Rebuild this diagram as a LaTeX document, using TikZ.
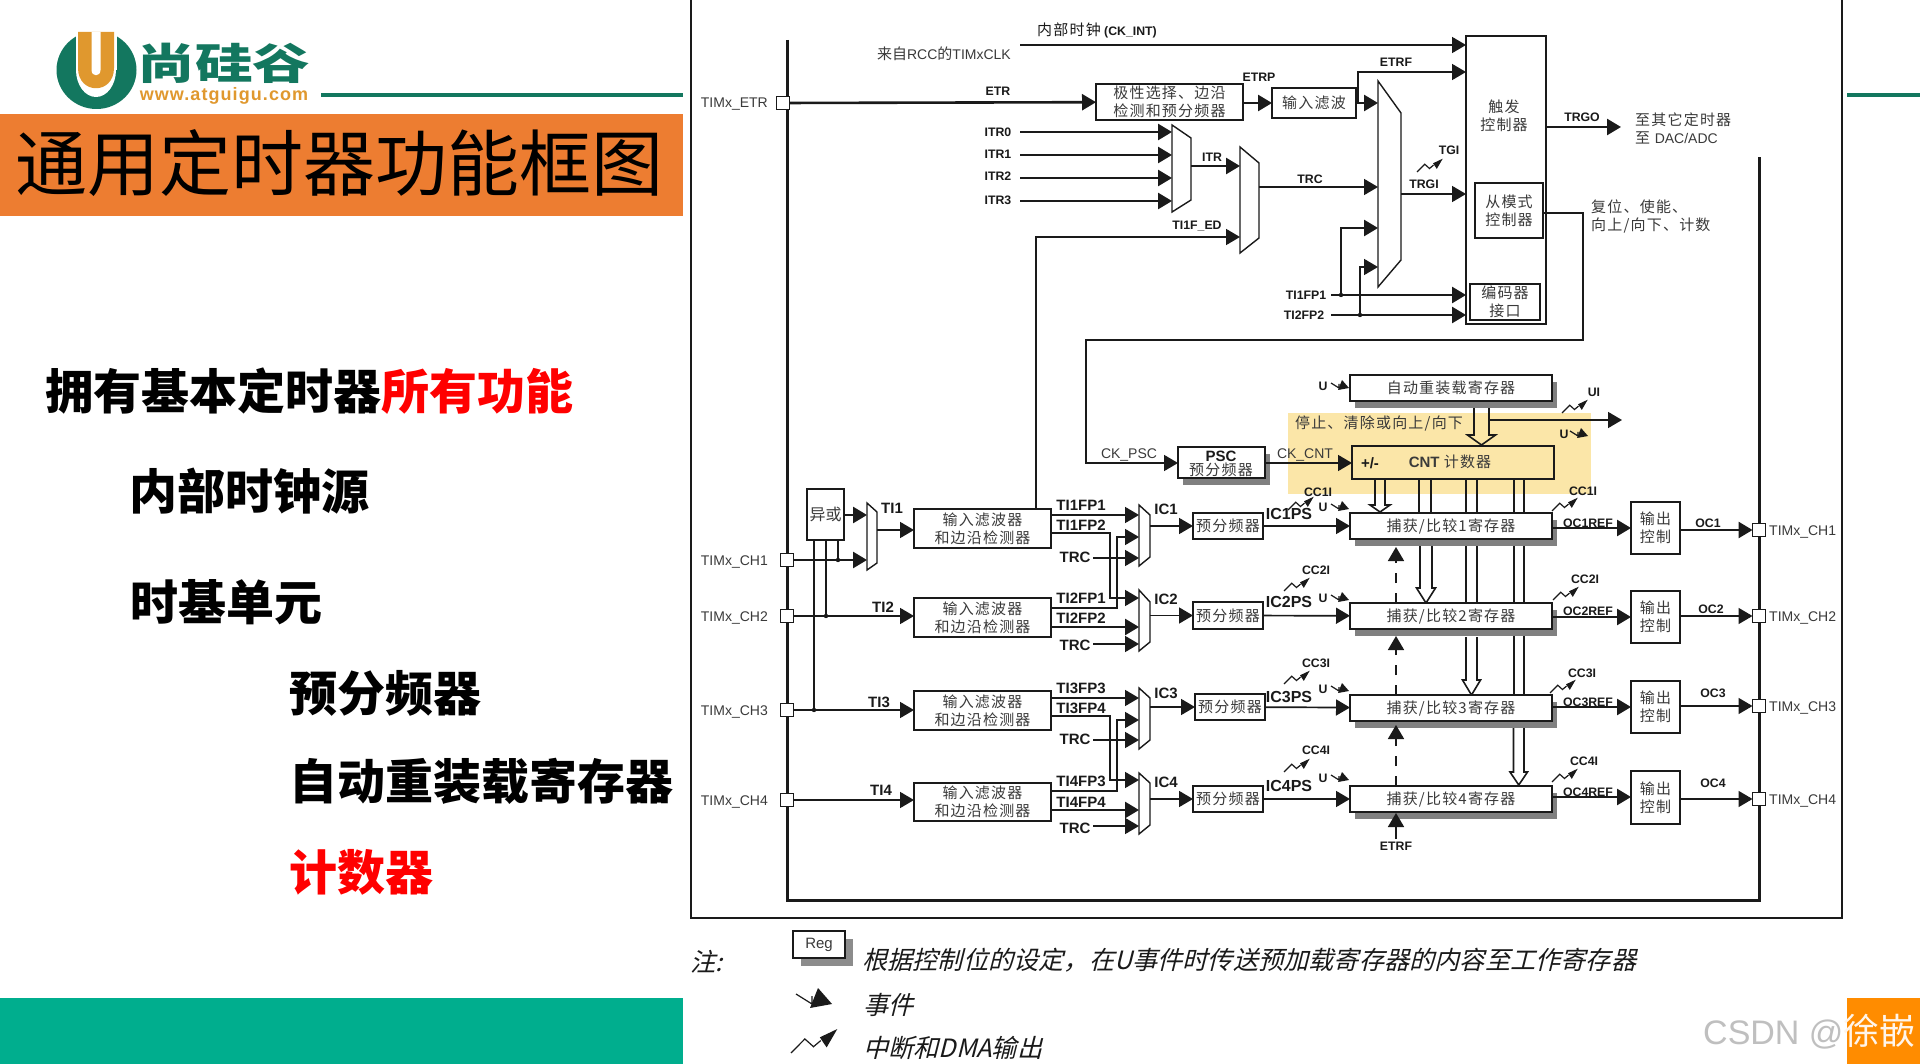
\documentclass[tikz,border=0pt]{standalone}
\usepackage{fontspec}
\usepackage{graphicx}
\usetikzlibrary{arrows.meta,shadows,calc}
\setmainfont{Liberation Sans}
\newfontfamily\cjk{Noto Sans CJK SC}
\newfontfamily\cjks[LetterSpace=8]{Noto Sans CJK SC}
\newfontfamily\cjkit[FakeSlant=0.25]{Noto Sans CJK SC}
\newfontfamily\wwwf[LetterSpace=6]{Liberation Sans}
\newcommand{\fz}[1]{\fontsize{#1}{#1}\selectfont}
\definecolor{tealL}{HTML}{13775F}
\definecolor{tealB}{HTML}{00AE8E}
\definecolor{logoO}{HTML}{E0982E}
\definecolor{titleO}{HTML}{ED7D31}
\definecolor{yel}{HTML}{FBE6A8}
\definecolor{ink}{HTML}{1A1A1A}
\definecolor{cn}{HTML}{3A3A3A}
\tikzset{
  bx/.style={draw=ink,line width=1.8pt,fill=white,inner sep=0pt,outer sep=0pt,align=center,text=cn,font=\cjks\fontsize{15}{18}\selectfont},
  shd/.style={general shadow={fill=black!50,shadow xshift=5pt,shadow yshift=-7pt}},
  muxs/.style={draw=ink,line width=1.4pt,fill=white,line join=miter},
  port/.style={draw=ink,line width=1.6pt,fill=white,minimum size=13pt,inner sep=0pt,outer sep=0pt},
  arr/.style={-{Triangle[length=14pt,width=16pt]}},
  thk/.style={draw=ink,line width=2.6pt},
  thn/.style={draw=ink,line width=1.7pt},
  lb/.style={inner sep=0pt,text=ink,text height=8.8pt,text depth=0pt,font=\bfseries\fontsize{12.3}{13}\selectfont},
  lbb/.style={inner sep=0pt,text=ink,text height=10.7pt,text depth=0pt,font=\bfseries\fontsize{15}{15}\selectfont},
  lbi/.style={inner sep=0pt,text=ink,text height=11.5pt,text depth=0pt,font=\bfseries\fontsize{16}{16}\selectfont},
  rg/.style={inner sep=0pt,text=cn,text height=10pt,text depth=0pt,font=\fontsize{14}{14}\selectfont},
  cnl/.style={inner sep=0pt,text=cn,align=left,font=\cjks\fontsize{15}{18}\selectfont},
  big/.style={inner sep=0pt,anchor=west,font=\cjk\bfseries\fontsize{48}{48}\selectfont},
  leg/.style={inner sep=0pt,anchor=west,text=ink,font=\cjkit\fontsize{25.2}{25}\selectfont}
}
\newcommand{\BX}[7][]{\node[bx,#1,minimum width={(#5-#3)*1pt},minimum height={(#6-#4)*1pt}] (#2) at ({(#3+#5)/2},{(#4+#6)/2}) {#7};}
\newcommand{\MUX}[7]{\draw[muxs] (#2,#4)--(#3,#5)--(#3,#6)--(#2,#7)--cycle;
  \coordinate (#1-l) at (#2,{(#4+#7)/2}); \coordinate (#1-r) at (#3,{(#4+#7)/2});}
\newcommand{\EVT}[3]{\begin{scope}[shift={(#1,#2)},scale=#3]
  \draw[ink,line width=1.2pt] (0,0)--(8,5)--(8,1);
  \fill[ink] (11,-3)--(18,5)--(7,7)--cycle;\end{scope}}
\newcommand{\IRQ}[3]{\begin{scope}[shift={(#1,#2)},scale=#3]
  \draw[ink,line width=1.2pt] (0,0)--(7.7,-7.8)--(12.5,-3.5)--(16.5,-6.9);
  \fill[ink] (25.7,-13.3)--(16,-8.7)--(19.8,-3.1)--cycle;\end{scope}}
\newcommand{\HOLLOW}[6]{\draw[ink,line width=1.6pt,line join=miter] (#1,#3)--(#1,#4)--({#1-#6},#4)--({(#1+#2)/2},#5)--({#2+#6},#4)--(#2,#4)--(#2,#3);}
\begin{document}
\begin{tikzpicture}[x=1pt,y=-1pt]
\useasboundingbox (0,0) rectangle (1920,1064);
\fill[white] (0,0) rectangle (1920,1064);
% ---------- slide furniture
\fill[titleO] (0,114) rectangle (683,216);
\node[inner sep=0pt,text=black,font=\cjk\fontsize{72}{72}\selectfont,anchor=west] (title) at (15,163) {通用定时器功能框图};
\draw[tealL,line width=4pt] (321,95)--(683,95);
\draw[tealL,line width=4pt] (1847,95)--(1920,95);
\fill[tealB] (0,998) rectangle (683,1064);
\fill[orange!90!yellow] (1847,998) rectangle (1920,1064);
% logo
\fill[tealL] (96.5,70) ellipse [x radius=40,y radius=39];
\fill[white] (76,25) rectangle (117,70);
\fill[white] (96,70) ellipse [x radius=20,y radius=27];
\fill[logoO] (78,32) -- (114,32) -- (114,68) .. controls (114,95) and (78,95) .. (78,68) -- cycle;
\fill[white] (91.5,32) -- (100.5,32) -- (100.5,70) .. controls (100.5,77) and (91.5,77) .. (91.5,70) -- cycle;
\node[inner sep=0pt,text=tealL,font=\cjk\bfseries\fontsize{56}{56}\selectfont] (logotxt) at (224,63) {\scalebox{1.03}[.76]{尚硅谷}};
\node[inner sep=0pt,text=logoO,font=\wwwf\bfseries\fontsize{18}{18}\selectfont] (logourl) at (224,96) {www.atguigu.com};
% left text
\node[big] (t1) at (45,391) {拥有基本定时器\textcolor{red}{所有功能}};
\node[big] (t2) at (129,491) {内部时钟源};
\node[big] (t3) at (130,602) {时基单元};
\node[big] (t4) at (289,693) {预分频器};
\node[big] (t5) at (289,781) {自动重装载寄存器};
\node[big,text=red] (t6) at (289,872) {计数器};
% ---------- frame
\fill[yel] (1288,413) rectangle (1591,494);
\draw[ink,line width=2pt] (691,0)--(691,918)--(1842,918)--(1842,0);
\draw[ink,line width=3pt] (787,40)--(787,900)--(1759,900)--(1759,157);
% ---------- coordinates for free ends
\coordinate (ckint) at (1020,45);
\coordinate (itr0) at (1020,132);
\coordinate (itr1) at (1020,155);
\coordinate (itr2) at (1020,178);
\coordinate (itr3) at (1020,201);
\coordinate (tfp1) at (1331,295);
\coordinate (tfp2) at (1331,315);
\coordinate (trgoE) at (1621,127);
\coordinate (uiE) at (1622,420);
\coordinate (etrfB) at (1396,839);
% ---------- boxes, upper part
\BX{trg}{1466}{36}{1546}{324}{}
\BX{pol}{1096}{84}{1243}{120}{极性选择、边沿\\检测和预分频器}
\BX{ifl}{1272}{88}{1356}{118}{输入滤波}
\BX{slv}{1475}{183}{1543}{238}{从模式\\控制器}
\BX{enc}{1470}{284}{1540}{320}{编码器\\接口}
\node[inner sep=0pt,align=center,text=cn,font=\cjks\fontsize{15}{18}\selectfont] (trgt) at (1504,116) {触发\\控制器};
\MUX{ma}{1172}{1191}{125}{138}{200}{212}
\MUX{mb}{1240}{1259}{147}{163}{238}{253}
\MUX{mc}{1378}{1401}{81}{113}{260}{287}
% ---------- ports
\node[port] (petr) at (783,103) {};
\node[port] (pc1) at (787,560) {};
\node[port] (pc2) at (787,616) {};
\node[port] (pc3) at (787,710) {};
\node[port] (pc4) at (787,800) {};
\node[port] (oc1p) at (1759,530) {};
\node[port] (oc2p) at (1759,616) {};
\node[port] (oc3p) at (1759,706) {};
\node[port] (oc4p) at (1759,799) {};
% ---------- connectors, upper part
\draw[thn,arr] (ckint) -- (trg.west |- ckint);
\draw[thk,arr] (petr) -- (pol);
\draw[thk,arr] (pol.east |- ifl) -- (ifl);
\draw[thn,arr] (1358,103) -- (1358,72) -- (trg.west |- 0,72);
\draw[thk,arr] (ifl.east) -- (mc-l |- ifl);
\foreach \c in {itr0,itr1,itr2,itr3}{\draw[thk,arr] (\c) -- (ma-l |- \c);}
\draw[thk,arr] (ma-r |- 0,166) -- (mb-l |- 0,166);
\draw[thn,arr] (mb-r |- 0,187) -- (mc-l |- 0,187);
\draw[thn,arr] (mc-r |- 0,194) -- (trg.west |- 0,194);
\draw[thn,arr] (1036,509) -- (1036,237) -- (mb-l |- 0,237);
\draw[thk,arr] (tfp1) -- (trg.west |- tfp1);
\draw[thk,arr] (tfp2) -- (trg.west |- tfp2);
\draw[thk,arr] (1341,295) -- (1341,228) -- (mc-l |- 0,228);
\draw[thn,arr] (1360,315) -- (1360,267) -- (mc-l |- 0,267);
\fill[ink] (1341,295) circle (2.2);
\fill[ink] (1360,315) circle (2.2);
\draw[thk,arr] (trg.east |- trgoE) -- (trgoE);
% slave mode to prescaler
\BX[shd]{psc}{1178}{447}{1265}{478}{}
\node[inner sep=0pt,text=ink,font=\bfseries\fontsize{15}{15}\selectfont] (psct) at (1221,456) {PSC};
\node[inner sep=0pt,text=cn,font=\cjks\fontsize{15}{15}\selectfont] (psct2) at (1221,470) {预分频器};
\draw[thn,arr] (slv.east |- 0,213) -- (1583,213) -- (1583,340) -- (1086,340) -- (1086,463) -- (psc.west |- 0,463);
% ---------- lines between registers (behind boxes)
\draw[thn] (1419,479)--(1419,513);
\draw[thn] (1431,479)--(1431,513);
\draw[thn] (1466,479)--(1466,603);
\draw[thn] (1477,479)--(1477,603);
\draw[thn] (1514,479)--(1514,695);
\draw[thn] (1524,479)--(1524,695);
\HOLLOW{1474}{1489}{401}{435}{445}{6.5}
\HOLLOW{1375}{1385}{479}{505}{512}{5}
\HOLLOW{1420}{1432}{546}{588}{603}{3.5}
\HOLLOW{1466}{1477}{637}{680}{695}{3.5}
\HOLLOW{1513.5}{1524}{728}{772}{785}{3.5}
% ---------- counter and registers
\BX[shd]{arr}{1350}{375}{1552}{401}{自动重装载寄存器}
\BX[fill=none]{cnt}{1352}{446}{1554}{479}{}
\node[inner sep=0pt,text=ink,font=\bfseries\fontsize{15}{15}\selectfont] (cntpm) at (1370,463) {+/-};
\node[inner sep=0pt,text=cn,font=\bfseries\fontsize{15}{15}\selectfont] (cntt) at (1450,462) {CNT {\cjks\mdseries\fontsize{15}{15}\selectfont 计数器}};
\BX[shd]{cc1}{1350}{513}{1552}{539}{捕获/比较1寄存器}
\BX[shd]{cc2}{1350}{603}{1552}{629}{捕获/比较2寄存器}
\BX[shd]{cc3}{1350}{695}{1552}{721}{捕获/比较3寄存器}
\BX[shd]{cc4}{1350}{786}{1552}{812}{捕获/比较4寄存器}
\draw[thn,arr] (psc.east |- 0,463) -- (cnt.west |- 0,463);
\draw[thn,arr] (1489,420) -- (uiE);
% ---------- ETRF dashed
\draw[thn,arr] (etrfB) -- (1396,813);
\draw[thn,arr,dash pattern=on 10pt off 10pt] (cc4.north -| etrfB) -- (1396,725);
\draw[thn,arr,dash pattern=on 10pt off 10pt] (cc3.north -| etrfB) -- (1396,636);
\draw[thn,arr,dash pattern=on 10pt off 10pt] (cc2.north -| etrfB) -- (1396,547);
% ---------- input chain
\BX[font=\cjk\fontsize{16}{16}\selectfont]{xor}{807}{489}{844}{540}{异或}
\MUX{mt}{867}{877}{503}{512}{563}{570}
\BX{f1}{914}{509}{1051}{548}{输入滤波器\\和边沿检测器}
\BX{f2}{914}{598}{1051}{637}{输入滤波器\\和边沿检测器}
\BX{f3}{914}{691}{1051}{730}{输入滤波器\\和边沿检测器}
\BX{f4}{914}{783}{1051}{821}{输入滤波器\\和边沿检测器}
\MUX{ic1}{1139}{1150}{505}{515}{557}{566}
\MUX{ic2}{1139}{1150}{590}{602}{642}{651}
\MUX{ic3}{1139}{1150}{688}{698}{740}{749}
\MUX{ic4}{1139}{1150}{773}{783}{825}{834}
\BX{ps1}{1193}{513}{1263}{539}{预分频器}
\BX{ps2}{1193}{602}{1263}{629}{预分频器}
\BX{ps3}{1195}{694}{1265}{720}{预分频器}
\BX{ps4}{1193}{786}{1263}{812}{预分频器}
\draw[thk,arr] (xor.east |- 0,515) -- (mt-l |- 0,515);
\draw[thk,arr] (pc1) -- (mt-l |- pc1);
\draw[thn] (xor.south -| 838,0) -- (838,560);
\draw[thn] (xor.south -| 826,0) -- (826,616);
\draw[thn] (xor.south -| 814,0) -- (814,710);
\fill[ink] (838,560) circle (2.2);
\fill[ink] (826,616) circle (2.2);
\fill[ink] (814,710) circle (2.2);
\draw[thn,arr] (mt-r |- 0,530) -- (f1.west |- 0,530);
\draw[thn,arr] (pc2) -- (f2.west |- pc2);
\draw[thn,arr] (pc3) -- (f3.west |- pc3);
\draw[thn,arr] (pc4) -- (f4.west |- pc4);
% channel 1/2 routing
\draw[thn,arr] (f1.east |- 0,515) -- (ic1-l |- 0,515);
\draw[thn,arr] (f1.east |- 0,533) -- (1110,533) -- (1110,598) -- (ic2-l |- 0,598);
\draw[thn,arr] (f2.east |- 0,608) -- (1117,608) -- (1117,537) -- (ic1-l |- 0,537);
\draw[thn,arr] (1093,558) -- (ic1-l |- 0,558);
\draw[thk,arr] (f2.east |- 0,627) -- (ic2-l |- 0,627);
\draw[thn,arr] (1093,644) -- (ic2-l |- 0,644);
% channel 3/4 routing
\draw[thn,arr] (f3.east |- 0,698) -- (ic3-l |- 0,698);
\draw[thn,arr] (f3.east |- 0,716) -- (1110,716) -- (1110,780) -- (ic4-l |- 0,780);
\draw[thn,arr] (f4.east |- 0,791) -- (1117,791) -- (1117,720) -- (ic3-l |- 0,720);
\draw[thn,arr] (1093,740) -- (ic3-l |- 0,740);
\draw[thk,arr] (f4.east |- 0,810) -- (ic4-l |- 0,810);
\draw[thn,arr] (1093,826) -- (ic4-l |- 0,826);
% mux to prescaler to register
\draw[thn,arr] (ic1-r |- ps1) -- (ps1);
\draw[thn,arr] (ic2-r |- ps2) -- (ps2);
\draw[thn,arr] (ic3-r |- ps3) -- (ps3);
\draw[thn,arr] (ic4-r |- ps4) -- (ps4);
\draw[thn,arr] (ps1) -- (cc1);
\draw[thn,arr] (ps2) -- (cc2);
\draw[thn,arr] (ps3) -- (cc3);
\draw[thn,arr] (ps4) -- (cc4);
% ---------- output chain
\BX{o1}{1631}{502}{1680}{554}{输出\\控制}
\BX{o2}{1631}{591}{1680}{643}{输出\\控制}
\BX{o3}{1631}{681}{1680}{733}{输出\\控制}
\BX{o4}{1631}{771}{1680}{824}{输出\\控制}
\draw[thk,arr] (cc1.east |- 0,528) -- (o1.west |- 0,528);
\draw[thk,arr] (cc2.east |- 0,617) -- (o2.west |- 0,617);
\draw[thk,arr] (cc3.east |- 0,707) -- (o3.west |- 0,707);
\draw[thk,arr] (cc4.east |- 0,797) -- (o4.west |- 0,797);
\draw[thk,arr] (o1.east |- oc1p) -- (oc1p);
\draw[thn,arr] (o2.east |- oc2p) -- (oc2p);
\draw[thn,arr] (o3.east |- oc3p) -- (oc3p);
\draw[thn,arr] (o4.east |- oc4p) -- (oc4p);
% ---------- icons
\IRQ{1417}{172}{1}
\IRQ{1562}{413}{1}
\IRQ{1288}{510}{1}
\IRQ{1552}{511}{1}
\IRQ{1284}{591}{1}
\IRQ{1553}{600}{1}
\IRQ{1284}{684}{1}
\IRQ{1550}{693}{1}
\IRQ{1284}{772}{1}
\IRQ{1552}{782}{1}
\EVT{1331}{383}{1}
\EVT{1570}{431}{1}
\EVT{1331}{504}{1}
\EVT{1331}{595}{1}
\EVT{1331}{686}{1}
\EVT{1331}{775}{1}
% ---------- labels upper
\node[lb] (l1) at (1097,31) {{\cjks\mdseries\fontsize{15}{15}\selectfont 内部时钟} (CK\_INT)};
\node[rg,anchor=east] (l2) at (1011,55) {{\cjk\fontsize{15}{15}\selectfont 来自}RCC{\cjk\fontsize{15}{15}\selectfont 的}TIMxCLK};
\node[rg,anchor=east] (l3) at (768,103) {TIMx\_ETR};
\node[lb] (l4) at (998,91) {ETR};
\node[lb] (l5) at (1259,77) {ETRP};
\node[lb] (l6) at (1396,62) {ETRF};
\node[lb] (l7) at (998,132) {ITR0};
\node[lb] (l8) at (998,154) {ITR1};
\node[lb] (l9) at (998,176) {ITR2};
\node[lb] (l10) at (998,200) {ITR3};
\node[lb] (l11) at (1212,157) {ITR};
\node[lb] (l12) at (1197,225) {TI1F\_ED};
\node[lb] (l13) at (1310,179) {TRC};
\node[lb] (l14) at (1449,150) {TGI};
\node[lb] (l15) at (1424,184) {TRGI};
\node[lb] (l16) at (1306,295) {TI1FP1};
\node[lb] (l17) at (1304,315) {TI2FP2};
\node[lb] (l18) at (1582,117) {TRGO};
\node[cnl,anchor=west] (l19) at (1635,128.5) {至其它定时器\\至 {\rmfamily\fontsize{14}{18}\selectfont DAC/ADC}};
\node[cnl,anchor=west] (l20) at (1591,216) {复位、使能、\\向上/向下、计数};
% ---------- labels counter
\node[rg] (l21) at (1129,453) {CK\_PSC};
\node[rg] (l22) at (1305,453) {CK\_CNT};
\node[inner sep=0pt,text=cn,font=\cjks\fontsize{15}{15}\selectfont] (l23) at (1379,423) {停止、清除或向上/向下};
\node[lb] (l24) at (1323,386) {U};
\node[lb] (l25) at (1594,392) {UI};
\node[lb] (l26) at (1564,434) {U};
\node[lb] (l27) at (1323,507) {U};
\node[lb] (l28) at (1323,598) {U};
\node[lb] (l29) at (1323,689) {U};
\node[lb] (l30) at (1323,778) {U};
\node[lb] (l31) at (1318,492) {CC1I};
\node[lb] (l32) at (1583,491) {CC1I};
\node[lb] (l33) at (1316,570) {CC2I};
\node[lb] (l34) at (1585,579) {CC2I};
\node[lb] (l35) at (1316,663) {CC3I};
\node[lb] (l36) at (1582,673) {CC3I};
\node[lb] (l37) at (1316,750) {CC4I};
\node[lb] (l38) at (1584,761) {CC4I};
\node[lb] (l39) at (1396,846) {ETRF};
% ---------- labels input chain
\node[rg,anchor=east] (l40) at (768,560) {TIMx\_CH1};
\node[rg,anchor=east] (l41) at (768,616) {TIMx\_CH2};
\node[rg,anchor=east] (l42) at (768,710) {TIMx\_CH3};
\node[rg,anchor=east] (l43) at (768,800) {TIMx\_CH4};
\node[lbb] (l44) at (892,508) {TI1};
\node[lbb] (l45) at (883,607) {TI2};
\node[lbb] (l46) at (879,702) {TI3};
\node[lbb] (l47) at (881,790) {TI4};
\node[lbb] (l48) at (1081,505) {TI1FP1};
\node[lbb] (l49) at (1081,525) {TI1FP2};
\node[lbb] (l50) at (1075,557) {TRC};
\node[lbb] (l51) at (1081,598) {TI2FP1};
\node[lbb] (l52) at (1081,618) {TI2FP2};
\node[lbb] (l53) at (1075,645) {TRC};
\node[lbb] (l54) at (1081,688) {TI3FP3};
\node[lbb] (l55) at (1081,708) {TI3FP4};
\node[lbb] (l56) at (1075,739) {TRC};
\node[lbb] (l57) at (1081,781) {TI4FP3};
\node[lbb] (l58) at (1081,802) {TI4FP4};
\node[lbb] (l59) at (1075,828) {TRC};
\node[lbb] (l60) at (1166,509) {IC1};
\node[lbb] (l61) at (1166,599) {IC2};
\node[lbb] (l62) at (1166,693) {IC3};
\node[lbb] (l63) at (1166,782) {IC4};
\node[lbi] (l64) at (1289,514) {IC1PS};
\node[lbi] (l65) at (1289,602) {IC2PS};
\node[lbi] (l66) at (1289,697) {IC3PS};
\node[lbi] (l67) at (1289,786) {IC4PS};
% ---------- labels output chain
\node[lb] (l68) at (1588,523) {OC1REF};
\node[lb] (l69) at (1588,611) {OC2REF};
\node[lb] (l70) at (1588,702) {OC3REF};
\node[lb] (l71) at (1588,792) {OC4REF};
\node[lb] (l72) at (1708,523) {OC1};
\node[lb] (l73) at (1711,609) {OC2};
\node[lb] (l74) at (1713,693) {OC3};
\node[lb] (l75) at (1713,783) {OC4};
\node[rg,anchor=west] (l76) at (1769,530) {TIMx\_CH1};
\node[rg,anchor=west] (l77) at (1769,616) {TIMx\_CH2};
\node[rg,anchor=west] (l78) at (1769,706) {TIMx\_CH3};
\node[rg,anchor=west] (l79) at (1769,799) {TIMx\_CH4};
% ---------- legend
\node[leg] (n0) at (690,962) {注:};
\node[draw=ink,line width=1.3pt,fill=white,inner sep=0pt,minimum width=52pt,minimum height=27pt,text=cn,font=\fontsize{15}{15}\selectfont,general shadow={fill=black!45,shadow xshift=8pt,shadow yshift=-8pt}] (regb) at (819,944.5) {Reg};
\node[leg] (n1) at (862,960) {根据控制位的设定，在U事件时传送预加载寄存器的内容至工作寄存器};
\EVT{796}{994}{2}
\node[leg] (n2) at (863,1005) {事件};
\IRQ{791}{1053}{1.8}
\node[leg] (n3) at (863,1048) {中断和DMA输出};
% ---------- watermark
\node[inner sep=0pt,anchor=west,text=black!25,font=\fontsize{34}{34}\selectfont] (wm) at (1703,1032) {CSDN @\textcolor{white!92!orange}{\cjk\fontsize{36}{36}\selectfont 徐嵌}};
\end{tikzpicture}
\end{document}
